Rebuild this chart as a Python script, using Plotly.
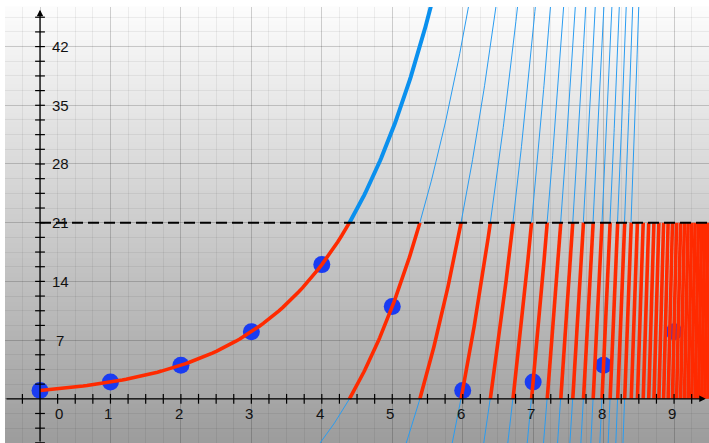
import numpy as np
import plotly.graph_objects as go

# ---- data ----
base = 2
modulus = 21
point_x = [0, 1, 2, 3, 4, 5, 6, 7, 8, 9]
point_y = [1, 2, 4, 8, 16, 11, 1, 2, 4, 8]
blue_shifts = list(range(1, 16))      # multiples of the modulus drawn as thin blue curves
red_shifts = list(range(0, 36))       # multiples of the modulus whose [0, 21] band is drawn red
x_tick_labels = [0, 1, 2, 3, 4, 5, 6, 7, 8, 9]
y_tick_labels = [7, 14, 21, 28, 35, 42]
x_minor_step = 0.25
y_minor_step = 1.75

X_RANGE = [-0.497, 9.496]
Y_RANGE = [-5.27, 46.72]

fig = go.Figure()

# background gradient (below grid)
shapes = []
n = 90
for i in range(n):
    f = i / (n - 1)
    c = int(round(252 - (252 - 157) * f))
    shapes.append(dict(type="rect", xref="paper", yref="paper",
                       x0=0, x1=1, y0=1 - (i + 1) / n, y1=1 - i / n + 0.002,
                       fillcolor=f"rgb({c},{c},{c})", line=dict(width=0), layer="below"))

# dashed line at y = modulus
shapes.append(dict(type="line", xref="x", yref="y", x0=0, x1=X_RANGE[1], y0=modulus, y1=modulus,
                   line=dict(color="black", width=2, dash="11px,5px"), layer="above"))

# points
fig.add_trace(go.Scatter(x=point_x, y=point_y, mode="markers",
                         marker=dict(size=17, color="#1a3cf2"), hoverinfo="skip"))

# thin blue curves
for k in blue_shifts:
    lo = np.log2(modulus * k + Y_RANGE[0])
    hi = np.log2(modulus * k + Y_RANGE[1])
    xs = np.linspace(lo, hi, 120)
    fig.add_trace(go.Scatter(x=xs, y=base ** xs - modulus * k, mode="lines",
                             line=dict(color="#2a9cf0", width=1), hoverinfo="skip"))

# red segments
for k in red_shifts:
    lo = 0.0 if k == 0 else np.log2(modulus * k)
    hi = np.log2(modulus * (k + 1))
    xs = np.linspace(lo, hi, 80)
    fig.add_trace(go.Scatter(x=xs, y=base ** xs - modulus * k, mode="lines",
                             line=dict(color="#ff2a00", width=3.6), hoverinfo="skip"))

# thick blue continuation of 2^x
xs = np.linspace(np.log2(modulus), np.log2(Y_RANGE[1] + 1), 80)
fig.add_trace(go.Scatter(x=xs, y=base ** xs, mode="lines",
                         line=dict(color="#0a90ee", width=4), hoverinfo="skip"))

# axis tick marks crossing the axes
xt = [v for v in np.arange(-x_minor_step, X_RANGE[1], x_minor_step) if abs(v) > 1e-9]
yt = [v for v in np.arange(-3 * y_minor_step, Y_RANGE[1] - 0.5, y_minor_step) if abs(v) > 1e-9]
fig.add_trace(go.Scatter(x=xt, y=[0] * len(xt), mode="markers",
                         marker=dict(symbol="line-ns", size=7, line=dict(color="black", width=1.2)),
                         hoverinfo="skip"))
fig.add_trace(go.Scatter(x=[0] * len(yt), y=yt, mode="markers",
                         marker=dict(symbol="line-ew", size=7, line=dict(color="black", width=1.2)),
                         hoverinfo="skip"))

annotations = []
# axes with arrows
annotations.append(dict(x=9.45, y=0, ax=X_RANGE[0], ay=0, xref="x", yref="y", axref="x", ayref="y",
                        text="", showarrow=True, arrowhead=2, arrowsize=1, arrowwidth=1.3,
                        arrowcolor="black"))
annotations.append(dict(x=0, y=46.4, ax=0, ay=Y_RANGE[0], xref="x", yref="y", axref="x", ayref="y",
                        text="", showarrow=True, arrowhead=2, arrowsize=1, arrowwidth=1.3,
                        arrowcolor="black"))
lab_font = dict(family="Liberation Sans, Arial, sans-serif", size=15, color="#111")
for v in x_tick_labels:
    annotations.append(dict(x=v, y=0, xref="x", yref="y", text=str(v), showarrow=False,
                            yshift=-15, xshift=(19 if v == 0 else -2), font=lab_font))
for v in y_tick_labels:
    annotations.append(dict(x=0, y=v, xref="x", yref="y", text=str(v), showarrow=False,
                            xshift=20, yshift=0, font=lab_font))

fig.update_layout(
    width=709, height=443,
    margin=dict(l=5, r=0, t=7, b=0),
    paper_bgcolor="white", plot_bgcolor="rgba(0,0,0,0)",
    showlegend=False,
    shapes=shapes, annotations=annotations,
    xaxis=dict(range=X_RANGE, dtick=1, tick0=0, showgrid=True, gridcolor="rgba(0,0,0,0.18)",
               gridwidth=1, zeroline=False, showticklabels=False, ticks="", showline=False,
               minor=dict(dtick=x_minor_step, tick0=0, showgrid=True, gridcolor="rgba(0,0,0,0.06)"),
               fixedrange=True),
    yaxis=dict(range=Y_RANGE, dtick=7, tick0=0, showgrid=True, gridcolor="rgba(0,0,0,0.18)",
               gridwidth=1, zeroline=False, showticklabels=False, ticks="", showline=False,
               minor=dict(dtick=y_minor_step, tick0=0, showgrid=True, gridcolor="rgba(0,0,0,0.06)"),
               fixedrange=True),
)

fig.write_html("out.html", config={"displayModeBar": False},
               post_script="document.body.style.margin='0';document.body.style.overflow='hidden';")
